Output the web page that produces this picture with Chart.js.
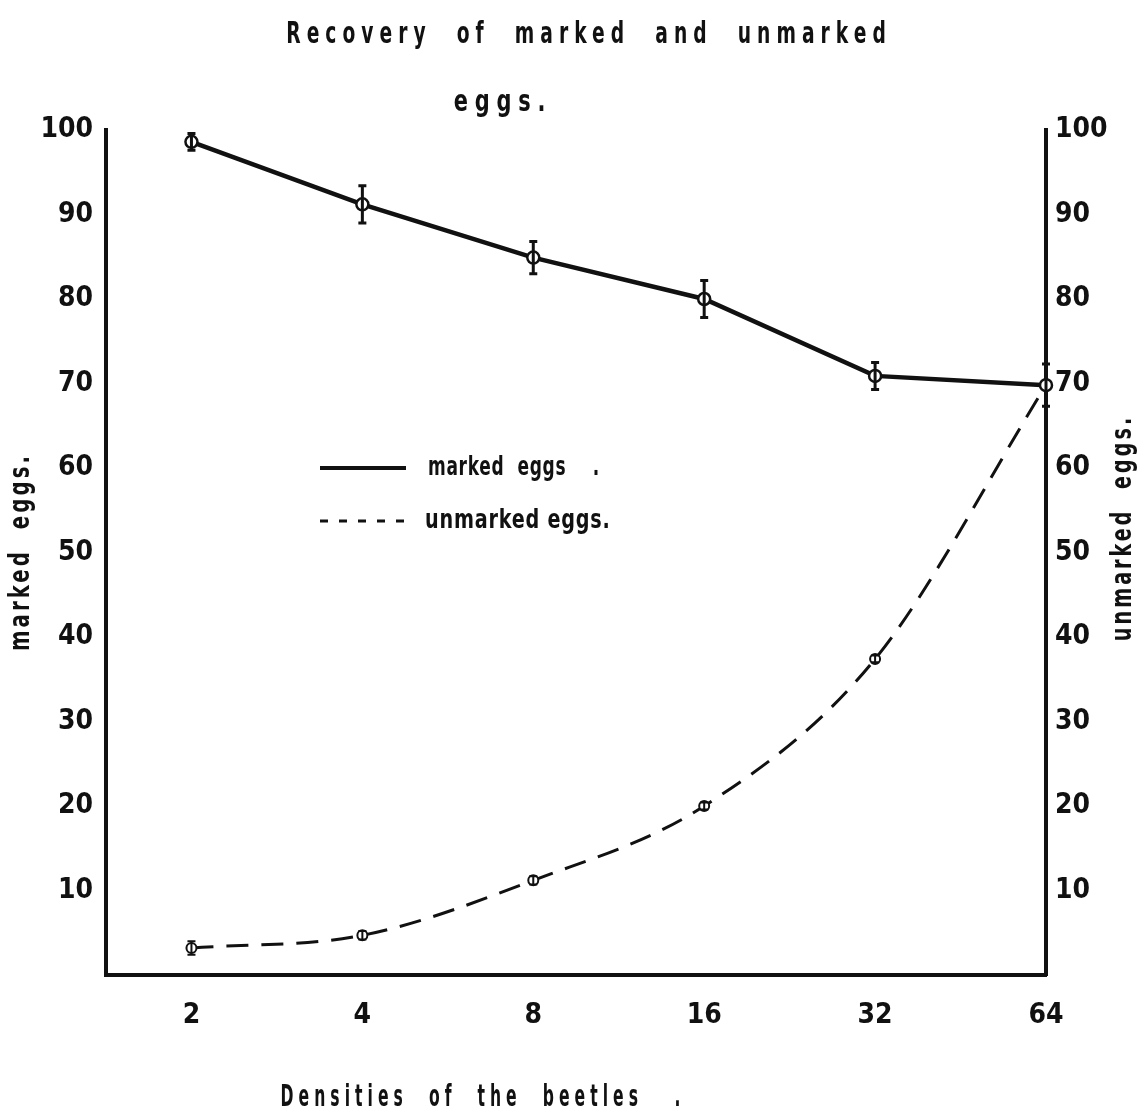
<!DOCTYPE html>
<html>
<head>
<meta charset="utf-8">
<script src="https://cdn.jsdelivr.net/npm/chart.js@4.4.1/dist/chart.umd.min.js"></script>
<style>
    html, body { margin: 0; padding: 0; background: #fff; }
    #chart { display: block; }
</style>
</head>
<body>
<canvas id="chart" width="1138" height="1120"></canvas>
<script>
// Recovery of marked and unmarked eggs vs beetle density (log2 spaced)

const DENSITIES = [2, 4, 8, 16, 32, 64];
const MARKED = [98.6, 91.2, 84.9, 80.0, 70.9, 69.8];
const MARKED_ERR = [1.0, 2.2, 1.9, 2.2, 1.6, 2.5];
const UNMARKED = [3.2, 4.7, 11.2, 20.0, 37.4, 69.8];
const UNMARKED_ERR = [0.8, 0.5, 0.5, 0.4, 0.4, 0];
const Y_TICKS = [10, 20, 30, 40, 50, 60, 70, 80, 90, 100];

const FONT = "'Liberation Sans Narrow', 'DejaVu Sans Condensed', 'Roboto Condensed', sans-serif";
const INK = '#111';

function points(values) {
    return DENSITIES.map((d, i) => ({ x: d, y: values[i] }));
}

function yAxis(position, width, pad) {
    return {
        position,
        min: 0,
        max: 100,
        grid: { display: false, drawTicks: false },
        border: { display: true, color: INK, width: 4 },
        ticks: { color: INK, padding: pad, font: { size: 28, weight: 'bold' } },
        afterBuildTicks: s => { s.ticks = Y_TICKS.map(v => ({ value: v })); },
        afterFit: s => { s.width = width; }
    };
}

// narrow, widely spaced lettering like the typed original
function squeezed(ctx, text, x, y, sx, rotate) {
    ctx.save();
    ctx.translate(x, y);
    if (rotate) ctx.rotate(-Math.PI / 2);
    ctx.scale(sx, 1);
    ctx.fillText(text, 0, 0);
    ctx.restore();
}

// error bars drawn through the markers
const errorBars = {
    id: 'errorBars',
    afterDatasetsDraw(chart) {
        const { ctx } = chart;
        const y = chart.scales.y;
        ctx.save();
        ctx.strokeStyle = INK;
        chart.data.datasets.forEach((ds, di) => {
            const meta = chart.getDatasetMeta(di);
            ctx.lineWidth = ds.errWidth;
            meta.data.forEach((pt, i) => {
                const e = ds.errors[i];
                if (!e) return;
                const top = y.getPixelForValue(ds.data[i].y + e);
                const bot = y.getPixelForValue(ds.data[i].y - e);
                ctx.beginPath();
                ctx.moveTo(pt.x, top); ctx.lineTo(pt.x, bot);
                ctx.moveTo(pt.x - 4, top); ctx.lineTo(pt.x + 4, top);
                ctx.moveTo(pt.x - 4, bot); ctx.lineTo(pt.x + 4, bot);
                ctx.stroke();
            });
        });
        ctx.restore();
    }
};

// titles, rotated axis names and the in-plot legend
const annotations = {
    id: 'annotations',
    afterDraw(chart) {
        const { ctx } = chart;
        ctx.save();
        ctx.fillStyle = INK;
        ctx.textBaseline = 'middle';
        ctx.textAlign = 'center';

        ctx.font = 'bold 31px ' + FONT;
        ctx.letterSpacing = '9px';
        squeezed(ctx, 'Recovery  of  marked  and  unmarked', 589, 35, 0.67);
        squeezed(ctx, 'eggs.', 503, 103, 0.75);
        squeezed(ctx, 'Densities  of  the  beetles   .', 483, 1098, 0.56);

        ctx.font = 'bold 28px ' + FONT;
        ctx.letterSpacing = '4px';
        squeezed(ctx, 'marked  eggs.', 22, 552, 0.78, true);
        squeezed(ctx, 'unmarked  eggs.', 1124, 528, 0.76, true);

        // legend
        ctx.letterSpacing = '1px';
        ctx.font = 'bold 27px ' + FONT;
        ctx.textAlign = 'left';
        chart.data.datasets.forEach((ds, i) => {
            const ly = 468 + i * 53;
            ctx.strokeStyle = INK;
            ctx.lineWidth = ds.legendWidth;
            ctx.setLineDash(ds.legendDash);
            ctx.beginPath();
            ctx.moveTo(320, ly); ctx.lineTo(406, ly);
            ctx.stroke();
            ctx.setLineDash([]);
            squeezed(ctx, ds.label, 428 - i * 3, ly, ds.legendSqueeze);
        });
        ctx.restore();
    }
};

Chart.defaults.font.family = FONT;
Chart.defaults.color = INK;

new Chart(document.getElementById('chart'), {
    type: 'line',
    data: {
        datasets: [
            {
                label: 'marked  eggs    .',
                data: points(MARKED),
                errors: MARKED_ERR,
                errWidth: 3,
                borderColor: INK,
                borderWidth: 4.5,
                tension: 0,
                pointRadius: 6,
                pointBorderWidth: 2.5,
                pointBackgroundColor: '#fff',
                pointBorderColor: INK,
                legendWidth: 4,
                legendDash: [],
                legendSqueeze: 0.7,
                clip: false
            },
            {
                label: 'unmarked eggs.',
                data: points(UNMARKED),
                errors: UNMARKED_ERR,
                errWidth: 2,
                borderColor: INK,
                borderWidth: 3,
                borderDash: [22, 13],
                cubicInterpolationMode: 'monotone',
                pointRadius: 5,
                pointBorderWidth: 2,
                pointBackgroundColor: '#fff',
                pointBorderColor: INK,
                legendWidth: 3,
                legendDash: [8, 11],
                legendSqueeze: 0.79,
                clip: false
            }
        ]
    },
    options: {
        responsive: false,
        animation: false,
        layout: { padding: { top: 130, left: 0, right: 0, bottom: 0 } },
        plugins: {
            legend: { display: false },
            tooltip: { enabled: false }
        },
        scales: {
            x: {
                type: 'logarithmic',
                position: 'bottom',
                min: Math.SQRT2,
                max: 64,
                grid: { display: false, drawTicks: false },
                border: { display: true, color: INK, width: 4 },
                ticks: {
                    color: INK,
                    padding: 24,
                    autoSkip: false,
                    maxRotation: 0,
                    font: { size: 28, weight: 'bold' },
                    callback: v => String(v)
                },
                afterBuildTicks: s => { s.ticks = DENSITIES.map(v => ({ value: v })); },
                afterFit: s => { s.height = 145; }
            },
            y: yAxis('left', 106, 13),
            y2: yAxis('right', 92, 9)
        }
    },
    plugins: [errorBars, annotations]
});
</script>
</body>
</html>
